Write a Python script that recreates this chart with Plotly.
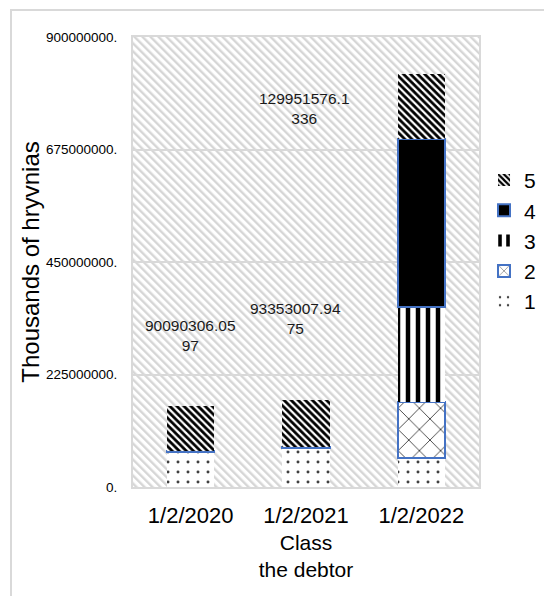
import base64
import plotly.graph_objects as go

# Stacked amounts by debtor class, thousands of hryvnias
categories = ["1/2/2020", "1/2/2021", "1/2/2022"]
class_1 = [70.0e6, 78.5e6, 58.6e6]
class_2 = [1.5e6, 1.5e6, 112.0e6]
class_3 = [0.0, 0.0, 188.8e6]
class_4 = [0.0, 0.0, 336.6e6]
class_5 = [90090306.0597, 93353007.9475, 129951576.1336]
series_names = ["1", "2", "3", "4", "5"]
y_ticks = [0, 225000000, 450000000, 675000000, 900000000]

FONT = "Liberation Sans, Arial, sans-serif"
GRID = "#d9d9d9"
BLUE = "#4472c4"

W, H = 544, 596
ML, MR, MT, MB = 133, 65, 37, 109
PW, PH = W - ML - MR, H - MT - MB

styles = [
    dict(pattern=dict(shape=".", fgcolor="#404040", bgcolor="white", size=10, solidity=0.07,
                      fgopacity=1), line=dict(width=0)),
    dict(pattern=dict(shape="x", fgcolor="#303030", bgcolor="white", size=15, solidity=0.11,
                      fgopacity=1), line=dict(width=2, color=BLUE)),
    dict(pattern=dict(shape="|", fgcolor="black", bgcolor="white", size=10, solidity=0.45,
                      fgopacity=1), line=dict(width=0)),
    dict(color="black", line=dict(width=2, color=BLUE)),
    dict(pattern=dict(shape="\\", fgcolor="black", bgcolor="white", size=5, solidity=0.55,
                      fgopacity=1), line=dict(width=0)),
]

fig = go.Figure()
for name, vals, st in zip(series_names, [class_1, class_2, class_3, class_4, class_5], styles):
    marker = dict(line=st["line"])
    if "pattern" in st:
        marker["color"] = "white"
        marker["pattern"] = st["pattern"]
    else:
        marker["color"] = st["color"]
    fig.add_trace(go.Bar(x=categories, y=vals, name=name, marker=marker))

# light diagonal hatching behind the plot area
stripe = (
    f'<svg xmlns="http://www.w3.org/2000/svg" width="{PW}" height="{PH}" '
    f'viewBox="0 0 {PW} {PH}" preserveAspectRatio="none">'
    '<defs><pattern id="s" width="5.66" height="5.66" patternUnits="userSpaceOnUse" '
    'patternTransform="rotate(-45)"><rect x="0" y="0" width="2.4" height="5.66" fill="#d6d6d6"/>'
    '</pattern></defs>'
    f'<rect width="{PW}" height="{PH}" fill="white"/>'
    f'<rect width="{PW}" height="{PH}" fill="url(#s)"/></svg>'
)
bg_src = "data:image/svg+xml;base64," + base64.b64encode(stripe.encode()).decode()


def wrap_value(v, width=11):
    s = f"{v:.4f}"
    return s[:width] + "<br>" + s[width:]


label_pos = [(0, 304e6, 0), (1, 338e6, -11), (2, 758e6, -117)]
annotations = []
for (i, yv, dx), v in zip(label_pos, class_5):
    annotations.append(dict(
        x=categories[i], y=yv, xref="x", yref="y", xshift=dx,
        text=wrap_value(v), showarrow=False,
        font=dict(family=FONT, size=15.5, color="#1a1a1a"),
    ))

fig.update_layout(
    width=W, height=H,
    margin=dict(l=ML, r=MR, t=MT, b=MB, autoexpand=False),
    paper_bgcolor="white", plot_bgcolor="white",
    barmode="stack", bargap=0.59,
    font=dict(family=FONT, color="black"),
    legend=dict(
        traceorder="reversed", x=1.0145, xanchor="left", y=0.547, yanchor="middle",
        font=dict(family=FONT, size=21, color="black"), bgcolor="rgba(0,0,0,0)",
    ),
    images=[dict(source=bg_src, xref="paper", yref="paper", x=0, y=1, sizex=1, sizey=1,
                 xanchor="left", yanchor="top", sizing="stretch", layer="below")],
    shapes=[dict(type="rect", xref="paper", yref="paper",
                 x0=-0.3526, x1=1.4, y0=-0.4, y1=1.06,
                 line=dict(color=GRID, width=2), fillcolor="rgba(0,0,0,0)", layer="above")],
    annotations=annotations,
)

fig.update_xaxes(
    showline=True, mirror=True, linecolor=GRID, linewidth=2,
    ticks="outside", ticklen=8, tickcolor="rgba(0,0,0,0)",
    tickfont=dict(family=FONT, size=22, color="black"),
    title=dict(text="Class<br>the debtor", standoff=8,
               font=dict(family=FONT, size=21, color="black")),
)
fig.update_yaxes(
    range=[0, 900000000], tickvals=y_ticks, ticktext=[f"{v}." for v in y_ticks],
    showgrid=True, gridcolor=GRID, gridwidth=2, zeroline=False,
    showline=True, mirror=True, linecolor=GRID, linewidth=2,
    ticks="outside", ticklen=11, tickcolor="rgba(0,0,0,0)",
    tickfont=dict(family=FONT, size=13.5, color="black"),
    title=dict(text="Thousands of hryvnias", standoff=0,
               font=dict(family=FONT, size=24, color="black")),
)

fig.write_html("out.html")
